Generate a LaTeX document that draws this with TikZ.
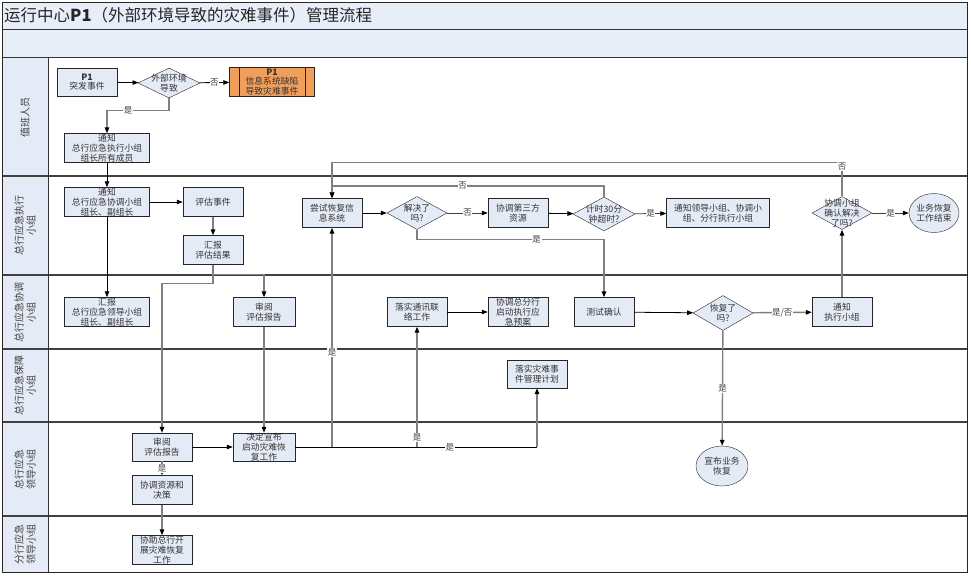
\documentclass[tikz,border=0pt]{standalone}
\usepackage{fontspec}
\setmainfont{Noto Sans CJK SC}
\usetikzlibrary{shapes.geometric,arrows.meta}

\definecolor{boxfill}{RGB}{229,235,246}
\definecolor{bandfill}{RGB}{232,238,248}
\definecolor{warnfill}{RGB}{240,158,92}
\definecolor{linegray}{RGB}{128,128,128}
\definecolor{lanedark}{RGB}{64,64,64}

\tikzset{
  stepbox/.style={rectangle,draw=black!85,fill=boxfill,text=black!80,
    minimum width=60pt,minimum height=29pt,inner xsep=1pt,inner ysep=0pt,
    align=center,font=\fontsize{8.8}{9.7}\selectfont},
  decision/.style={diamond,draw=black!85,fill=boxfill,inner sep=0pt,
    minimum width=60pt,minimum height=33pt,
    label={[align=center,text=black!80,font=\fontsize{8.8}{9.7}\selectfont]center:#1}},
  terminal/.style={ellipse,draw=black!85,fill=boxfill,text=black!80,inner sep=0pt,
    minimum width=50pt,minimum height=39pt,align=center,
    font=\fontsize{8.8}{9.7}\selectfont},
  lanetitle/.style={rotate=90,align=center,text=black!75,
    font=\fontsize{10}{12}\selectfont},
  laneline/.style={draw=lanedark,line width=1.2pt},
  blk/.style={draw=black,line width=0.8pt},
  gry/.style={draw=linegray,line width=1.4pt}
}

\begin{document}
\begin{tikzpicture}[x=1pt,y=-1pt]
\useasboundingbox (0,0) rectangle (971,576);

% frame, bands, lanes
\fill[bandfill] (2,2) rectangle (967,57);
\fill[boxfill] (2,57) rectangle (48,572);
\draw[black!80,line width=0.8pt] (2,29) -- (967,29);
\draw[black!80,line width=0.8pt] (2,57) -- (967,57);
\draw[laneline] (2,176) -- (967,176);
\draw[laneline] (2,275) -- (967,275);
\draw[laneline] (2,349) -- (967,349);
\draw[laneline] (2,422) -- (967,422);
\draw[laneline] (2,516) -- (967,516);
\draw[black!80,line width=0.8pt] (48,57) -- (48,572);
\draw[black!85,line width=1pt] (2,2) rectangle (967,572);

\node[anchor=west,inner sep=0pt,text=black!85,font=\fontsize{16.5}{18}\selectfont] (title) at (4,15)
  {运行中心\textbf{P1}（外部环境导致的灾难事件）管理流程};

\node[lanetitle] (lane1) at (25,117) {值班人员};
\node[lanetitle] (lane2) at (25,225) {总行应急执行\\小组};
\node[lanetitle] (lane3) at (25,312) {总行应急协调\\小组};
\node[lanetitle] (lane4) at (25,385) {总行应急保障\\小组};
\node[lanetitle] (lane5) at (25,469) {总行应急\\领导小组};
\node[lanetitle] (lane6) at (25,544) {分行应急\\领导小组};

% steps
\node[stepbox,minimum height=28pt] (ev) at (87,82) {\textbf{P1}\\突发事件};
\node[decision={外部环境\\导致},minimum width=62pt,minimum height=30pt] (dExt) at (169,83) {};
\node[stepbox,fill=warnfill,minimum width=85pt] (cause) at (272,82) {\textbf{P1}\\信息系统缺陷\\导致灾难事件};
\draw[black!85] ([xshift=10pt]cause.north west) -- ([xshift=10pt]cause.south west);
\draw[black!85] ([xshift=-10pt]cause.north east) -- ([xshift=-10pt]cause.south east);
\node[stepbox,minimum width=85pt] (notify1) at (107,148) {通知\\总行应急执行小组\\组长所有成员};

\node[stepbox,minimum width=85pt] (notify2) at (107,202) {通知\\总行应急协调小组\\组长、副组长};
\node[stepbox] (assess) at (213,202) {评估事件};
\node[stepbox] (report) at (213,250) {汇报\\评估结果};
\node[stepbox] (try) at (332,213) {尝试恢复信\\息系统};
\node[decision={解决了\\吗?}] (solved) at (417,213) {};
\node[stepbox] (third) at (518,213) {协调第三方\\资源};
\node[decision={计时30分\\钟超时?},minimum width=62pt,minimum height=34pt] (timer) at (604,214) {};
\node[stepbox,minimum width=103pt] (notifyL) at (718,213) {通知领导小组、协调小\\组、分行执行小组};
\node[decision={协调小组\\确认解决\\了吗?}] (confirm) at (842,213) {};
\node[terminal] (endok) at (934,213) {业务恢复\\工作结束};

\node[stepbox,minimum width=85pt] (rep3) at (107,312) {汇报\\总行应急领导小组\\组长、副组长};
\node[stepbox,minimum width=62pt] (review3) at (264,312) {审阅\\评估报告};
\node[stepbox] (comm) at (417,312) {落实通讯联\\络工作};
\node[stepbox] (coordBr) at (518,312) {协调总分行\\启动执行应\\急预案};
\node[stepbox] (test) at (604,312) {测试确认};
\node[decision={恢复了\\吗?},minimum height=35pt] (recov) at (723,313) {};
\node[stepbox] (notifyE) at (842,312) {通知\\执行小组};

\node[stepbox,minimum height=28pt] (plan4) at (537,374) {落实灾难事\\件管理计划};

\node[stepbox,minimum height=28pt] (review5) at (162,447) {审阅\\评估报告};
\node[stepbox,minimum width=62pt,minimum height=28pt] (decide) at (264,447) {决定宣布\\启动灾难恢\\复工作};
\node[stepbox] (coord5) at (162,490) {协调资源和\\决策};
\node[terminal,minimum width=52pt,minimum height=40pt] (announce) at (722,466) {宣布业务\\恢复};

\node[stepbox] (assist6) at (162,550) {协助总行开\\展灾难恢复\\工作};

\begin{scope}[>={Triangle[length=6pt,width=4.5pt,color=black]},
              every node/.style={fill=white,inner sep=0.6pt,text=black!75,
                font=\fontsize{8.5}{9}\selectfont},
              every edge/.style={draw=black,line width=0.8pt}]
    % duty staff
    \path [->] (ev) edge (dExt);
    \path [->] (dExt) edge node {否} (cause);
    \draw [->,gry] (dExt.south) -- ++(0,12) -| node[pos=0.33] {是} (notify1.north);
    \path [->] (notify1) edge (notify2);
    % execution group
    \path [->] (notify2) edge (assess);
    \path [->] (assess) edge[gry] (report);
    \path [->] (notify2) edge (rep3);
    \draw [->,gry] (report.south) -- ++(0,10) -| (review3.north);
    \draw [->,gry] (report.south) -- ++(0,19) -| (review5.north);
    \path [->] (try) edge (solved);
    \path [->] (solved) edge[draw=black!75] node {否} (third);
    \path [->] (third) edge (timer);
    \path [->] (timer) edge[draw=black!75] node {是} (notifyL);
    \draw [->,gry] (timer.north) -- ++(0,-11) -| node[pos=0.26] {否} (try.north);
    \draw [->,gry] (solved.south) -- ++(0,10) -| node[pos=0.32] {是} (test.north);
    \draw [->,gry] (confirm.north) -- node[pos=0.88] {否} ++(0,-34) -| (try.north);
    \path [->] (confirm) edge[draw=black!75] node {是} (endok);
    % coordination group
    \path [->] (comm) edge (coordBr);
    \path [->] (test) edge (recov);
    \path [->] (recov) edge[gry] node {是/否} (notifyE);
    \path [->] (notifyE) edge[gry] (confirm);
    \path [->] (recov) edge[gry] node {是} (announce);
    % leading groups
    \path [->] (review3) edge[gry] (decide);
    \path [->] (review5) edge (decide);
    \path [->] (review5) edge[gry] node {是} (coord5);
    \path [->] (coord5) edge[gry] (assist6);
    \draw [blk] (decide.east) -- node[pos=0.64] {是} (decide.east -| plan4.south);
    \draw [->,gry] (decide.east -| plan4.south) -- (plan4.south);
    \draw [->,gry] (decide.east -| try.south) -- node[pos=0.43] {是} (try.south);
    \draw [->,gry] (decide.east -| comm.south) -- node[pos=0.08] {是} (comm.south);
\end{scope}
\end{tikzpicture}
\end{document}
